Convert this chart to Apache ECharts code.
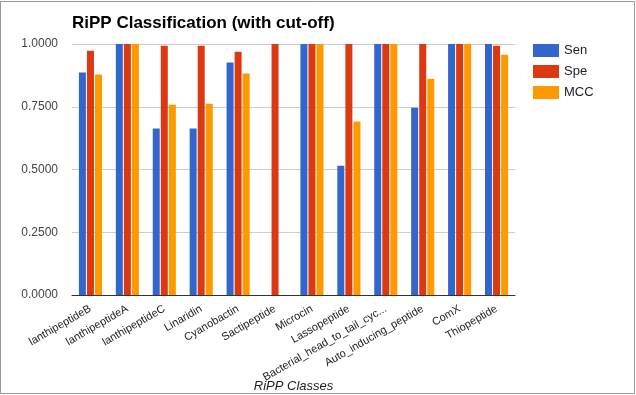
<!DOCTYPE html>
<html>
<head>
<meta charset="utf-8">
<script src="https://cdn.jsdelivr.net/npm/echarts@6/dist/echarts.min.js"></script>
<style>
html,body{margin:0;padding:0;background:#fff;}
#c{width:636px;height:395px;}
</style>
</head>
<body>
<div id="c"></div>
<script>
const categories = ["lanthipeptideB","lanthipeptideA","lanthipeptideC","Linaridin","Cyanobactin","Sactipeptide","Microcin","Lassopeptide","Bacterial_head_to_tail_cyc...","Auto_inducing_peptide","ComX","Thiopeptide"];
const sen = [0.886, 1.0, 0.663, 0.663, 0.926, 0, 1.0, 0.515, 1.0, 0.746, 1.0, 1.0];
const spe = [0.973, 1.0, 0.993, 0.993, 0.969, 1.0, 1.0, 1.0, 1.0, 1.0, 1.0, 0.993];
const mcc = [0.878, 1.0, 0.758, 0.762, 0.882, 0, 1.0, 0.691, 1.0, 0.862, 1.0, 0.957];
const seriesNames = ["Sen","Spe","MCC"];
const colors = ["#3366cc","#dc3912","#ff9900"];

const chart = echarts.init(document.getElementById('c'), null, {renderer:'canvas'});
const font = 'Arial, "Liberation Sans", sans-serif';
chart.setOption({
  animation:false,
  backgroundColor:'#fff',
  graphic:[{type:'rect', shape:{x:0.5,y:1.5,width:634,height:392}, style:{fill:'none',stroke:'#999',lineWidth:1}, silent:true}],
  title:{text:'RiPP Classification (with cut-off)', left:67, top:10,
    textStyle:{fontFamily:font,fontSize:17,fontWeight:'bold',color:'#000'}},
  legend:{orient:'vertical', left:528, top:39, itemWidth:26, itemHeight:13, itemGap:8,
    icon:'rect', textStyle:{fontFamily:font,fontSize:13,color:'#222'}, data:seriesNames},
  grid:{left:72, right:121, top:44, bottom:100, containLabel:false, outerBoundsMode:'none'},
  xAxis:{type:'category', data:categories,
    name:'RiPP Classes', nameLocation:'middle', nameGap:85, nameMoveOverlap:false,
    nameTextStyle:{fontFamily:font,fontSize:13,fontStyle:'italic',color:'#222'},
    axisTick:{show:false}, axisLine:{lineStyle:{color:'#333',width:1}},
    axisLabel:{rotate:30, interval:0, margin:13, fontFamily:font, fontSize:11, color:'#222'}},
  yAxis:{type:'value', min:0, max:1, interval:0.25,
    axisLine:{show:false}, axisTick:{show:false},
    splitLine:{lineStyle:{color:'#ccc'}},
    axisLabel:{formatter:v=>v.toFixed(4), margin:14, fontFamily:font, fontSize:12, color:'#444'}},
  series:[sen,spe,mcc].map((d,i)=>({name:seriesNames[i], type:'bar', data:d, barWidth:7, barGap:'15%',
    itemStyle:{color:colors[i]}}))
});
</script>
</body>
</html>
